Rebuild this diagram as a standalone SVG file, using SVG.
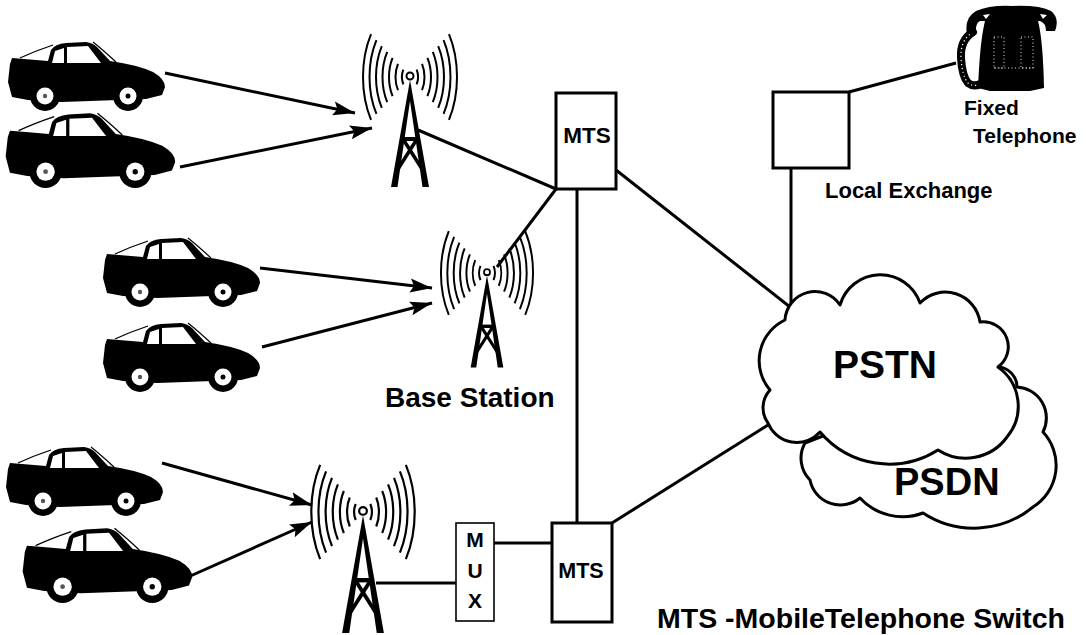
<svg xmlns="http://www.w3.org/2000/svg" xmlns:xlink="http://www.w3.org/1999/xlink" width="1086" height="635" viewBox="0 0 1086 635">
  <style>
    .lbl { font-family: "Liberation Sans", Arial, sans-serif; font-weight: bold; fill: #000; }
    .link { stroke: #000; stroke-width: 3; fill: none; }
    .radio { stroke: #000; stroke-width: 3; fill: none; marker-end: url(#head); }
    .box { fill: #fff; stroke: #000; stroke-width: 3; }
    .thinbox { fill: #fff; stroke: #000; stroke-width: 1.6; }
    .cloud { fill: #fff; stroke: #000; stroke-width: 3; stroke-linejoin: round; }
    .wave { fill: none; stroke: #000; stroke-width: 2; }
  </style>
  <defs>
    <marker id="head" markerUnits="userSpaceOnUse" markerWidth="24" markerHeight="16" refX="22" refY="8" orient="auto">
      <path d="M0,1 L22,8 L0,15 L4,8 Z" fill="#000"/>
    </marker>

    <!-- lattice mast, antenna tip at origin -->
    <g id="mast">
      <path d="M0,3 L19,110 L12.5,110 L0,24 L-12.5,110 L-19,110 Z" fill="#000"/>
      <line x1="-8" y1="62" x2="8" y2="62" stroke="#000" stroke-width="4"/>
      <line x1="-7" y1="62" x2="12" y2="92" stroke="#000" stroke-width="3.5"/>
      <line x1="7" y1="62" x2="-12" y2="92" stroke="#000" stroke-width="3.5"/>
      <circle cx="0" cy="-1" r="3.5" fill="#fff" stroke="#000" stroke-width="2"/>
    </g>

    <!-- radio waves around the antenna tip -->
    <g id="waves" class="wave">
      <path d="M6.63,-7.29 A8,13.04 0 0 1 6.63,7.29 M-6.63,-7.29 A8,13.04 0 0 0 -6.63,7.29"/>
      <path d="M12.02,-13.21 A14.5,23.6 0 0 1 12.02,13.21 M-12.02,-13.21 A14.5,23.6 0 0 0 -12.02,13.21"/>
      <path d="M17.41,-19.13 A21,34.2 0 0 1 17.41,19.13 M-17.41,-19.13 A21,34.2 0 0 0 -17.41,19.13"/>
      <path d="M22.8,-25.05 A27.5,44.8 0 0 1 22.8,25.05 M-22.8,-25.05 A27.5,44.8 0 0 0 -22.8,25.05"/>
      <path d="M28.19,-30.97 A34,55.4 0 0 1 28.19,30.97 M-28.19,-30.97 A34,55.4 0 0 0 -28.19,30.97"/>
      <path d="M33.57,-36.9 A40.5,66 0 0 1 33.57,36.9 M-33.57,-36.9 A40.5,66 0 0 0 -33.57,36.9"/>
      <path d="M38.96,-42.82 A47,76.6 0 0 1 38.96,42.82 M-38.96,-42.82 A47,76.6 0 0 0 -38.96,42.82"/>
    </g>

    <!-- sports car silhouette, facing right -->
    <g id="car">
      <path d="M10,64 L12,58 L24,59 L48,61 L51,50 Q55,44 66,43 L86,42 Q93,43 97,47 L110,61 Q138,65 153,72 Q165,79 165,87 L162,95 L146,99 L62,102 L28,100 L12,97 L8,82 Z" fill="#000"/>
      <path d="M55,51 L64,48 L64,63 L52,63 Z" fill="#fff"/>
      <path d="M67,47 L88,46 L101,63 L67,63 Z" fill="#fff"/>
      <path d="M20,58 Q35,51 53,45" fill="none" stroke="#000" stroke-width="1.3"/>
      <path d="M93,42 Q103,50 116,62" fill="none" stroke="#000" stroke-width="1.2"/>
      <circle cx="45" cy="96" r="15" fill="#000"/>
      <circle cx="128" cy="96" r="15" fill="#000"/>
      <circle cx="45" cy="96" r="8.5" fill="#fff"/>
      <circle cx="128" cy="96" r="8.5" fill="#fff"/>
      <circle cx="45" cy="96" r="2.2" fill="#555"/>
      <circle cx="128" cy="96" r="2.5" fill="#000"/>
    </g>
  </defs>

  <rect width="1086" height="635" fill="#fff"/>

  <!-- wired and radio links -->
  <g id="connectors">
    <line class="radio" x1="165" y1="73" x2="355" y2="113"/>
    <line class="radio" x1="180" y1="167" x2="372" y2="128"/>
    <line class="radio" x1="260" y1="268" x2="432" y2="288"/>
    <line class="radio" x1="262" y1="347" x2="432" y2="303"/>
    <line class="radio" x1="162" y1="463" x2="312" y2="505"/>
    <line class="radio" x1="170" y1="585" x2="312" y2="522"/>

    <line class="link" x1="418" y1="130" x2="556" y2="189"/>
    <line class="link" x1="497" y1="267" x2="556" y2="189"/>
    <line class="link" x1="577" y1="189" x2="577" y2="523"/>
    <line class="link" x1="616" y1="170" x2="790" y2="307"/>
    <line class="link" x1="612" y1="523" x2="768" y2="425"/>
    <line class="link" x1="376" y1="583" x2="456" y2="583"/>
    <line class="link" x1="494" y1="543" x2="552" y2="543"/>
    <line class="link" x1="849" y1="92" x2="956" y2="63"/>
    <line class="link" x1="791" y1="168" x2="791" y2="307"/>
  </g>

  <!-- mobile units -->
  <g id="car1"><use href="#car" xlink:href="#car"/></g>
  <g id="car2"><use href="#car" xlink:href="#car" transform="translate(-3,68) scale(1.08)"/></g>
  <g id="car3"><use href="#car" xlink:href="#car" transform="translate(95,196)"/></g>
  <g id="car4"><use href="#car" xlink:href="#car" transform="translate(95,281)"/></g>
  <g id="car5"><use href="#car" xlink:href="#car" transform="translate(-2,405)"/></g>
  <g id="car6"><use href="#car" xlink:href="#car" transform="translate(14,483) scale(1.08)"/></g>

  <!-- base stations -->
  <g id="tower1" transform="translate(410,77)">
    <use href="#waves" xlink:href="#waves"/>
    <use href="#mast" xlink:href="#mast"/>
  </g>
  <g id="tower2" transform="translate(487,273)">
    <use href="#waves" xlink:href="#waves" transform="scale(0.98)"/>
    <use href="#mast" xlink:href="#mast" transform="scale(0.86)"/>
    <text class="lbl" x="-102" y="134" font-size="28">Base Station</text>
  </g>
  <g id="tower3" transform="translate(363,512)">
    <use href="#waves" xlink:href="#waves" transform="scale(1.1)"/>
    <use href="#mast" xlink:href="#mast" transform="scale(1.1)"/>
  </g>

  <!-- switches -->
  <g id="mts-top">
    <rect class="box" x="556" y="93" width="60" height="96"/>
    <text class="lbl" x="587" y="143" font-size="22.5" text-anchor="middle">MTS</text>
  </g>
  <g id="mts-bottom">
    <rect class="box" x="552" y="523" width="60" height="99"/>
    <text class="lbl" x="581" y="578" font-size="21.5" text-anchor="middle">MTS</text>
  </g>
  <g id="mux">
    <rect class="thinbox" x="456" y="523" width="38" height="98"/>
    <text class="lbl" x="475" y="547" font-size="21" text-anchor="middle">M</text>
    <text class="lbl" x="475" y="578" font-size="21" text-anchor="middle">U</text>
    <text class="lbl" x="475" y="608" font-size="21" text-anchor="middle">X</text>
  </g>

  <!-- fixed network -->
  <g id="local-exchange">
    <rect class="box" x="773" y="92" width="76" height="76"/>
    <text class="lbl" x="825" y="198" font-size="22">Local Exchange</text>
  </g>

  <g id="psdn">
    <path class="cloud" d="M998,367 A20,20 0 0 1 1017,387 A31,31 0 0 1 1043,432 A49,49 0 0 1 1033,507 A93,93 0 0 1 923,513 A58,58 0 0 1 860,498 A31,31 0 0 1 810,480 A31,31 0 0 1 805,443 Z"/>
    <text class="lbl" x="894" y="495" font-size="38">PSDN</text>
  </g>
  <g id="pstn">
    <path class="cloud" d="M785,320 A30,30 0 0 1 840,305 A42,42 0 0 1 920,303 A35,35 0 0 1 980,322 A25,25 0 0 1 998,367 A48,48 0 0 1 1007,437 A51,51 0 0 1 938,450 A91,91 0 0 1 820,432 A31,31 0 0 1 768,423 A26,26 0 0 1 770,390 A45,45 0 0 1 785,320 Z"/>
    <text class="lbl" x="833" y="378" font-size="39">PSTN</text>
  </g>

  <g id="telephone">
    <!-- coiled cord -->
    <path d="M973,32 Q960,40 961,58 Q962,76 968,83 Q976,89 986,80" fill="none" stroke="#000" stroke-width="8" stroke-linecap="round"/>
    <path d="M973,32 Q960,40 961,58 Q962,76 968,83 Q976,89 986,80" fill="none" stroke="#fff" stroke-width="1.2" stroke-dasharray="1.2 2.8"/>
    <!-- body -->
    <path d="M985,21 L1038,21 Q1043,40 1044,88 L1030,91 L990,91 L978,88 Q980,40 985,21 Z" fill="#000"/>
    <!-- handset -->
    <path d="M967,34 Q964,18 976,11 Q990,5 1012,6 Q1040,5 1051,11 Q1060,18 1055,31 L1046,31 Q1046,23 1040,21 L980,21 Q975,23 976,34 Z" fill="#000"/>
    <path d="M983,15 L990,14 L986,19 Z M1040,14 L1047,15 L1043,19 Z" fill="#fff"/>
    <g fill="none" stroke="#fff" stroke-width="0.9" stroke-dasharray="1 2.5">
      <rect x="994" y="37" width="10" height="31"/>
      <rect x="1021" y="37" width="12" height="31"/>
      <line x1="994" y1="68" x2="1036" y2="68"/>
    </g>
    <text class="lbl" x="964" y="115" font-size="21">Fixed</text>
    <text class="lbl" x="973" y="143" font-size="21">Telephone</text>
  </g>

  <text class="lbl" x="657" y="628" font-size="28.5">MTS -MobileTelephone Switch</text>
</svg>
